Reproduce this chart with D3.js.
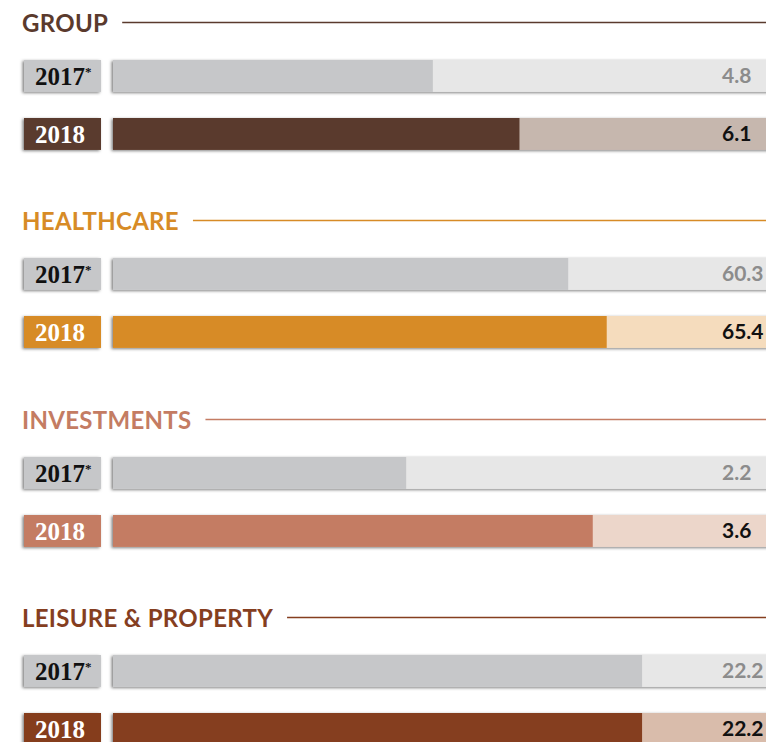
<!DOCTYPE html>
<html>
<head>
<meta charset="utf-8">
<script src="https://cdn.jsdelivr.net/npm/d3@7"></script>
<style>
	body { margin: 0; background: #fff; }
	.title { font-family: Lato, "Open Sans", sans-serif; font-weight: bold; font-size: 24px; letter-spacing: 0.3px; }
	.yr { font-family: "Liberation Serif", "DejaVu Serif", serif; font-weight: bold; font-size: 25px; }
	.val { font-family: Lato, "Open Sans", sans-serif; font-weight: bold; font-size: 21px; }
</style>
</head>
<body>
<svg id="chart" width="766" height="742"></svg>
<script>
var groups = ["GROUP", "HEALTHCARE", "INVESTMENTS", "LEISURE & PROPERTY"];
var years = ["2017", "2018"];
var values2017 = [4.8, 60.3, 2.2, 22.2];
var values2018 = [6.1, 65.4, 3.6, 22.2];
var scaleMax = [9.8, 86.5, 4.9, 27.4];

var groupColours = ["#5a3a2d", "#d78b26", "#c47c63", "#853e1f"];
var trackColours = ["#c6b7ae", "#f5dcbd", "#ecd6ca", "#d9bcab"];

var svg = d3.select('#chart'),
	width = +svg.attr('width'),
	height = +svg.attr('height');

var defs = svg.append('defs');
var shadow = defs.append('filter')
	.attr('id', 'shadow')
	.attr('x', '-10%').attr('y', '-40%')
	.attr('width', '120%').attr('height', '180%');
shadow.append('feDropShadow')
	.attr('dx', -1.5).attr('dy', 1)
	.attr('stdDeviation', 1.6)
	.attr('flood-color', '#000')
	.attr('flood-opacity', 0.5);

// vertical layout: one band per group, one band per year inside it
var groupY = d3.scaleBand().domain(groups).range([60, 60 + 198.3 * groups.length]);
var yearY = d3.scaleBand().domain(years).range([0, 90]).paddingInner(0.45).paddingOuter(0);

var labelX = 24, labelW = 77, barX = 113;

groups.forEach(function (name, i) {
	var g = svg.append('g').attr('transform', 'translate(0,' + Math.round(groupY(name)) + ')');
	var x = d3.scaleLinear().domain([0, scaleMax[i]]).range([barX, width]);
	var colour = groupColours[i];

	// title + rule
	var title = g.append('text')
		.attr('class', 'title')
		.attr('x', 22)
		.attr('y', -28.5)
		.attr('fill', colour)
		.text(name);
	var tw = title.node().getComputedTextLength();
	g.append('line')
		.attr('x1', 22 + tw + 14)
		.attr('x2', width)
		.attr('y1', -37.5)
		.attr('y2', -37.5)
		.attr('stroke', colour)
		.attr('stroke-width', 1.3);

	var rows = [
		{ year: years[0], value: values2017[i], fill: '#c6c7c9', track: '#e7e7e7', label: '#c6c7c9', text: '#111', valText: '#8c8c8c', star: true },
		{ year: years[1], value: values2018[i], fill: colour, track: trackColours[i], label: colour, text: '#fff', valText: '#111', star: false }
	];

	var row = g.selectAll('g.row').data(rows).enter().append('g')
		.attr('class', 'row')
		.attr('transform', function (d) { return 'translate(0,' + Math.round(yearY(d.year)) + ')'; });

	var h = yearY.bandwidth();

	row.append('rect')
		.attr('x', labelX).attr('y', 0)
		.attr('width', labelW).attr('height', h)
		.attr('fill', function (d) { return d.label; })
		.attr('filter', 'url(#shadow)');

	row.append('rect')
		.attr('x', barX).attr('y', 0)
		.attr('width', width - barX + 10).attr('height', h)
		.attr('fill', function (d) { return d.track; })
		.attr('filter', 'url(#shadow)');

	row.append('rect')
		.attr('x', barX).attr('y', 0)
		.attr('width', function (d) { return x(d.value) - barX; })
		.attr('height', h)
		.attr('fill', function (d) { return d.fill; });

	var yt = row.append('text')
		.attr('class', 'yr')
		.attr('x', 35)
		.attr('y', h / 2 + 9.5)
		.attr('fill', function (d) { return d.text; })
		.text(function (d) { return d.year; });
	yt.filter(function (d) { return d.star; })
		.append('tspan')
		.attr('font-size', 13)
		.attr('dy', -9)
		.text('*');

	row.append('text')
		.attr('class', 'val')
		.attr('x', 722)
		.attr('y', h / 2 + 7.5)
		.attr('fill', function (d) { return d.valText; })
		.text(function (d) { return d.value.toFixed(1); });
});
</script>
</body>
</html>
